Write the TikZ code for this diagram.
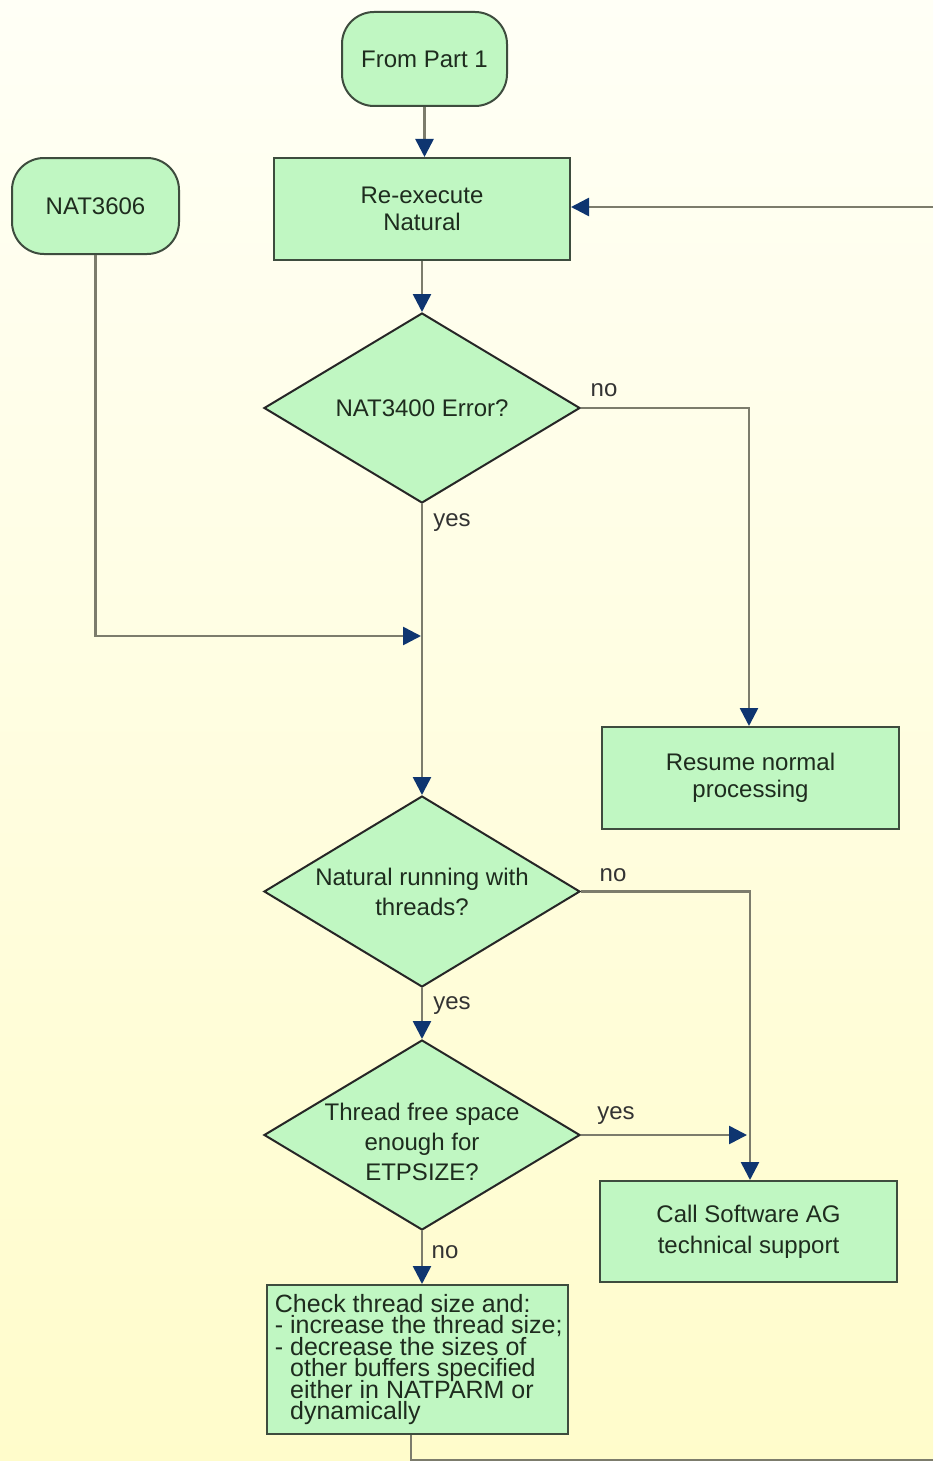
\documentclass[tikz,border=0pt]{standalone}
\usepackage{fontspec}
\setmainfont{Liberation Sans}
\usetikzlibrary{shapes.geometric,arrows.meta}
\definecolor{boxfill}{HTML}{C0F7C2}
\definecolor{boxline}{HTML}{3E4C3E}
\definecolor{conn}{HTML}{7C7C6C}
\definecolor{tipc}{HTML}{0E3570}
\definecolor{txt}{HTML}{1E2C1E}
\definecolor{bgtop}{HTML}{FFFFF6}
\definecolor{bgbot}{HTML}{FFFCCB}
\newcommand{\tightlines}{\lineskiplimit=-20pt\relax\lineskip=0pt\relax}
\tikzset{
  base/.style={draw=boxline, fill=boxfill, line width=1pt, text=txt, align=center,
    font=\fontsize{12}{13.5}\selectfont, inner sep=0pt},
  term/.style={base, rounded corners=16pt},
  proc/.style={base},
  dia/.style={base, diamond, draw=black!85},
  dtext/.style={text=txt, align=center, font=\fontsize{12}{15}\selectfont, inner sep=0pt},
  lbl/.style={text=black!80, font=\fontsize{12}{13}\selectfont, inner sep=0pt, anchor=base},
  conn/.style={draw=conn, line width=1.3pt},
  arr/.style={conn, -{Triangle[length=9pt,width=9pt,color=tipc]}},
}
\begin{document}
\begin{tikzpicture}[x=0.5pt,y=-0.5pt]
  \useasboundingbox (0,0) rectangle (933,1461);
  \shade[top color=bgtop, bottom color=bgbot] (0,0) rectangle (933,1461);

  % nodes
  \node[term, minimum width=82.5pt, minimum height=47pt] (start) at (424.5,59) {From Part 1};
  \node[proc, minimum width=148pt, minimum height=51pt] (reexec) at (422,209) {Re-execute\\Natural};
  \node[term, minimum width=83.5pt, minimum height=48pt] (nat) at (95.5,206) {NAT3606};
  \node[dia, minimum width=158pt, minimum height=95pt] (d1) at (422,408) {};
  \node[dtext] at (d1.center) {NAT3400 Error?};
  \node[proc, minimum width=148.5pt, minimum height=51pt, font=\fontsize{12}{13.5}\selectfont] (resume) at (750.5,778) {Resume normal\\processing};
  \node[dia, minimum width=158pt, minimum height=95.5pt] (d2) at (422,891.5) {};
  \node[dtext] at (d2.center) {Natural running with\\threads?};
  \node[dia, minimum width=158pt, minimum height=95pt] (d3) at (422,1135) {};
  \node[dtext] at ([yshift=-3.5pt]d3.center) {Thread free space\\enough for\\ETPSIZE?};
  \node[proc, minimum width=148.5pt, minimum height=50.5pt, font=\fontsize{12}{15.5}\selectfont] (call) at (748.5,1231.5) {Call Software AG\\technical support};
  \node[proc, minimum width=150.5pt, minimum height=74.5pt] (check) at (417.5,1359.5) {};
  \node[text=txt, anchor=north west, align=left, inner sep=0pt,
        font={\fontsize{12.5}{10.7}\selectfont\tightlines}] at (274.5,1294) {Check thread size and:\\- increase the thread size;\\- decrease the sizes of\\\phantom{- }other buffers specified\\\phantom{- }either in NATPARM or\\\phantom{- }dynamically};

  % helper coordinates
  \coordinate (rin) at (933,207);
  \coordinate (join) at (421,636);
  \coordinate (k) at (747,1135);
  \coordinate (bend) at (411,1460);
  \coordinate (bout) at (933,1460);

  % connectors
  \draw[arr] (start.south) -- (reexec.north -| start.south);
  \draw[arr] (d1.north |- reexec.south) -- (d1.north);
  \draw[arr] (rin) -- (reexec.east |- rin);
  \draw[arr] (d1.east) -| (resume.north -| 749,0);
  \draw[arr] (d1.south) -- (d2.north);
  \draw[arr] (nat.south) |- (join);
  \draw[arr] (d2.east) -| (call.north -| 750,0);
  \draw[arr] (d2.south) -- (d3.north);
  \draw[arr] (d3.east) -- (k);
  \draw[arr] (d3.south) -- (d3.south |- check.north);
  \draw[conn] (check.south -| bend) -- (bend) -- (bout);

  % labels
  \node[lbl] at (604,396) {no};
  \node[lbl] at (452,526) {yes};
  \node[lbl] at (613,881) {no};
  \node[lbl] at (452,1009) {yes};
  \node[lbl] at (616,1119) {yes};
  \node[lbl] at (445,1258) {no};
\end{tikzpicture}
\end{document}
